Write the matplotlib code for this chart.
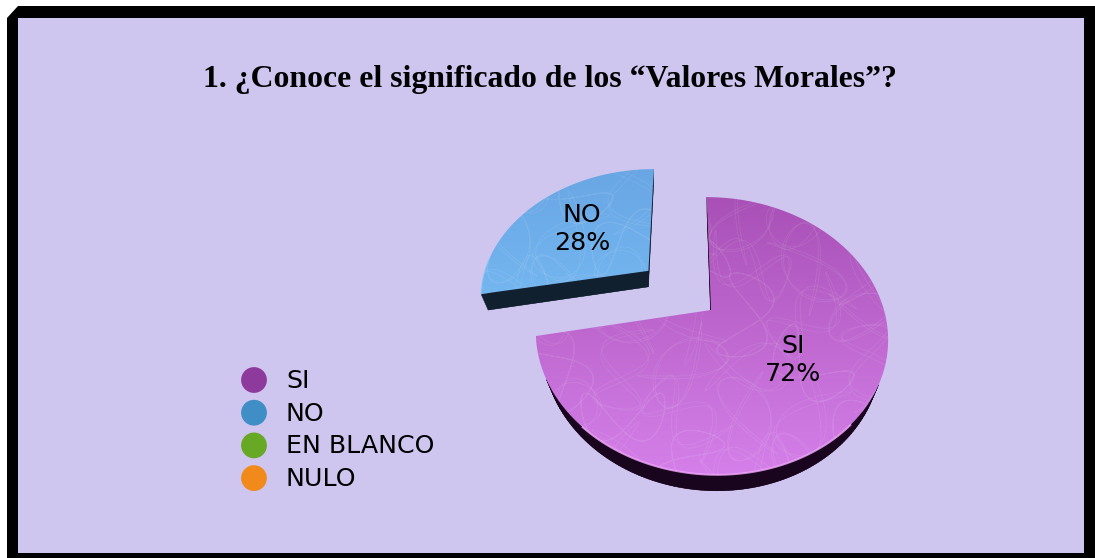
import numpy as np
import matplotlib
matplotlib.use('Agg')
import matplotlib.pyplot as plt
from matplotlib.colors import LinearSegmentedColormap
from matplotlib.patches import Polygon, PathPatch
from matplotlib.path import Path
from matplotlib.collections import PolyCollection

# ==== data ====
TITLE = "1. ¿Conoce el significado de los “Valores Morales”?"
CATEGORIES = ["SI", "NO", "EN BLANCO", "NULO"]
VALUES = [72, 28, 0, 0]
LEGEND_COLORS = ["#8e3a9d", "#3f8ec6", "#67a825", "#f28a1b"]
EXPLODE = [0, 0.485, 0, 0]

TOP_COLORS = {"SI": ("#a850b6", "#d580ea"), "NO": ("#68a6e4", "#74b6f0")}
SIDE_COLORS = {"SI": "#1a051e", "NO": "#10202f"}
BG = "#cfc6f0"

# perspective of the tilted pie, in pixels
X0, Y0, A, B, K, SKEW = 711, 310, 173, 134, 0.187, -5.0
DEPTH, SHRINK = 16, 0.958


def project(pts):
    u, v = pts[:, 0], pts[:, 1]
    w = 1 + K * v
    return np.column_stack([X0 + (A * u + SKEW * v) / w, Y0 - B * v / w])


def lower(pts, vanish_x):
    return np.column_stack([vanish_x + (pts[:, 0] - vanish_x) * SHRINK, pts[:, 1] + DEPTH])


def signed_area(q):
    x, y = q[:, 0], q[:, 1]
    return 0.5 * np.sum(x * np.roll(y, -1) - np.roll(x, -1) * y)


fig = plt.figure(figsize=(10.95, 5.58), dpi=100, facecolor="white")

# the pie is laid out on a hidden axes, then its wedges are projected
pie_ax = fig.add_axes([0, 0, 0.1, 0.1])
wedges, _ = pie_ax.pie(VALUES[:2], explode=EXPLODE[:2], startangle=90, counterclock=False)
shapes = {}
for name, w in zip(CATEGORIES, wedges):
    t = np.radians(np.linspace(w.theta1, w.theta2, 240))
    rim = np.column_stack([w.center[0] + np.cos(t), w.center[1] + np.sin(t)])
    shapes[name] = (project(np.vstack([[w.center], rim])), project(rim))
pie_ax.remove()

ax = fig.add_axes([0, 0, 1, 1])
ax.axis("off")

# frame
ax.add_patch(Polygon([(7, 18), (18, 6), (1095, 6), (1095, 558), (7, 558)],
                     closed=True, fc="black", ec="none"))
ax.add_patch(Polygon([(18, 18), (1084, 18), (1084, 553), (18, 553)], closed=True, fc=BG, ec="none"))

for name in ["NO", "SI"]:
    outline, rim = shapes[name]
    side = SIDE_COLORS[name]
    apex_x = outline[0, 0]
    # extruded wall under the top face, only the part that faces the viewer
    low = lower(outline, apex_x)
    ax.add_patch(Polygon(low, closed=True, fc=side, ec="none"))
    closed = np.vstack([outline, outline[:1]])
    low_closed = lower(closed, apex_x)
    quads = [np.array([closed[i], closed[i + 1], low_closed[i + 1], low_closed[i]])
             for i in range(len(closed) - 1)]
    areas = np.array([signed_area(q) for q in quads])
    front = np.sign(areas[np.argmax(closed[:-1, 1])])
    quads = [q for q, a in zip(quads, areas) if a * front > 0]
    ax.add_collection(PolyCollection(quads, facecolors=side, edgecolors=side, linewidths=0.3))

    # top face with a vertical gradient
    x0, x1 = outline[:, 0].min(), outline[:, 0].max()
    y0, y1 = outline[:, 1].min(), outline[:, 1].max()
    cmap = LinearSegmentedColormap.from_list(name, TOP_COLORS[name])
    grad = np.linspace(0, 1, 256).reshape(-1, 1)
    im = ax.imshow(grad, cmap=cmap, extent=(x0, x1, y1, y0), aspect="auto", zorder=3)
    clip = PathPatch(Path(closed), transform=ax.transData, fc="none", ec="none")
    ax.add_patch(clip)
    im.set_clip_path(clip)

    # faint scribble texture of the original fill: small loops on a grid
    s = np.linspace(0, 2 * np.pi, 200)
    for i, cx in enumerate(np.arange(x0 + 25, x1, 62)):
        for j, cy in enumerate(np.arange(y0 + 20, y1, 50)):
            k = (3 * i + 5 * j) % 4
            a = np.radians(40 * (i + 2 * j))
            px = 42 * np.sin((2 + k % 2) * s)
            py = 24 * np.sin((3 + k) * s + 0.6)
            line, = ax.plot(cx + px * np.cos(a) - py * np.sin(a), cy + px * np.sin(a) + py * np.cos(a),
                            color="white", lw=0.6, alpha=0.09, zorder=4)
            line.set_clip_path(clip)

    # light edge of the disc
    if name == "SI":
        low_rim = rim[rim[:, 1] > 425]
        ax.plot(low_rim[:, 0], low_rim[:, 1], color="#f4aaff", lw=1.4, alpha=0.8, zorder=5)
    else:
        low_rim = rim[rim[:, 0] < 490]
        ax.plot(low_rim[:, 0], low_rim[:, 1], color="#8cc8f8", lw=1.0, alpha=0.5, zorder=5)

ax.set_xlim(0, 1095)
ax.set_ylim(558, 0)

ax.text(550, 79, TITLE, ha="center", va="center", fontsize=22.9, fontweight="bold",
        family="Liberation Serif", color="black", zorder=6)

# data labels
label_pos = {"SI": (793, 360), "NO": (582, 229)}
for name, value in zip(CATEGORIES, VALUES):
    if name in label_pos:
        lx, ly = label_pos[name]
        ax.text(lx, ly, f"{name}\n{value}%", ha="center", va="center", fontsize=18.2,
                family="DejaVu Sans", color="black", linespacing=1.25, zorder=6)

# legend
legend_y = 380 + 32.7 * np.arange(len(CATEGORIES))
ax.scatter([254] * len(CATEGORIES), legend_y, s=345, c=LEGEND_COLORS, linewidths=0, zorder=6)
for name, ly in zip(CATEGORIES, legend_y):
    ax.text(286, ly + 1, name, ha="left", va="center", fontsize=18.2, family="DejaVu Sans",
            color="black", zorder=6)

fig.savefig("out.png", dpi=100, facecolor=fig.get_facecolor())
plt.close(fig)
